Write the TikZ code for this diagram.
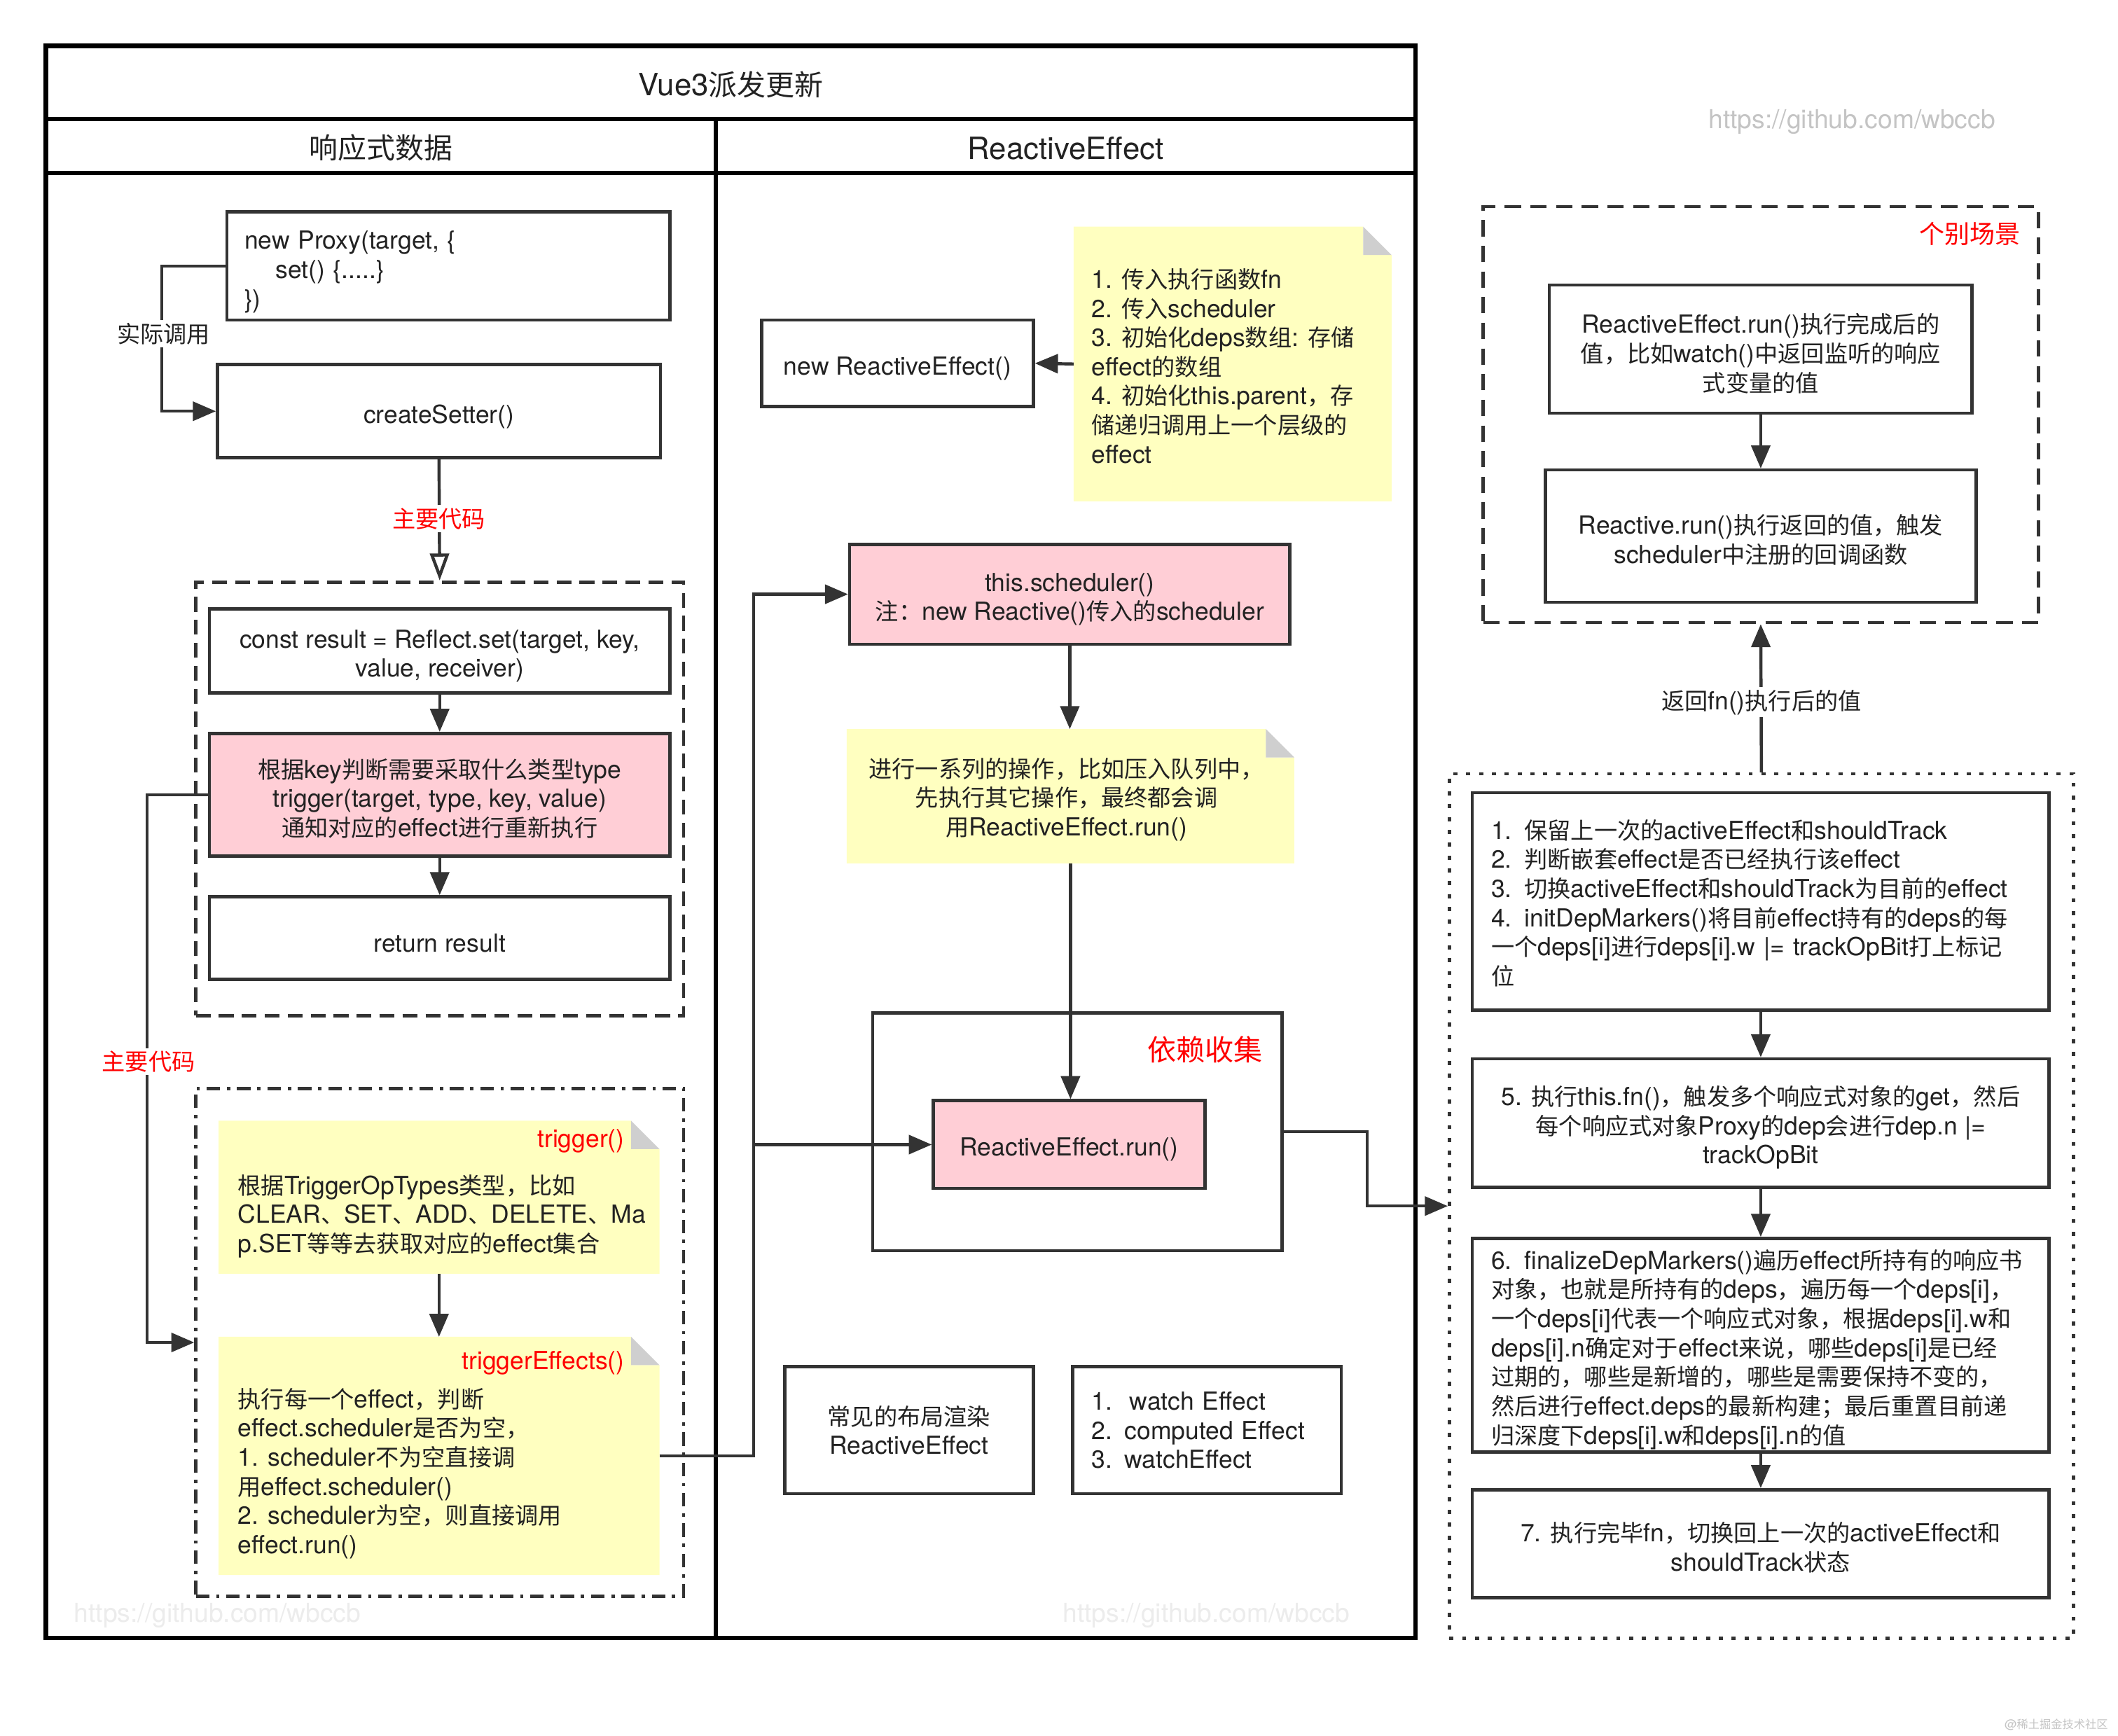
\documentclass[tikz,border=0pt]{standalone}
\usepackage{fontspec}
\setmainfont{TeX Gyre Heros}
\newfontfamily\cjkfont[Scale=0.935]{Noto Sans CJK SC}
\makeatletter
\newcount\cjk@n
\def\cjk@range#1#2{\cjk@n=#1\relax\loop\XeTeXcharclass\cjk@n=10\relax\advance\cjk@n 1\relax\ifnum\cjk@n<#2\relax\repeat}
\cjk@range{"4E00}{"A000}
\cjk@range{"3000}{"3040}
\cjk@range{"FF00}{"FFF0}
\makeatother
\XeTeXinterchartoks 0 10 = {\begingroup\cjkfont}
\XeTeXinterchartoks 4095 10 = {\begingroup\cjkfont}
\XeTeXinterchartoks 10 0 = {\endgroup}
\XeTeXinterchartoks 10 4095 = {\endgroup}
\XeTeXinterchartokenstate=1
\usetikzlibrary{arrows.meta}
\definecolor{lc}{HTML}{333333}
\definecolor{tc}{HTML}{222222}
\definecolor{pinkc}{HTML}{FFCED6}
\definecolor{notey}{HTML}{FFFFC0}
\definecolor{foldg}{HTML}{CFCFCF}
\definecolor{redc}{HTML}{FF0000}
\definecolor{wmc}{HTML}{C4C4C4}
\definecolor{wml}{HTML}{ECECEC}
\newcommand\fsbody{\fontsize{18.4pt}{21.6pt}\selectfont}
\newcommand\fshead{\fontsize{22.7pt}{26pt}\selectfont}
\newcommand\tp[1][21pt]{\rule{0pt}{#1}}
\newcommand\notebg[1]{%
  \fill[notey] (#1.north west) -- ([xshift=-21pt]#1.north east) -- ([xshift=-21pt,yshift=-21pt]#1.north east) -- ([yshift=-21pt]#1.north east) -- (#1.south east) -- (#1.south west) -- cycle;
  \fill[foldg] ([xshift=-21pt]#1.north east) -- ([xshift=-21pt,yshift=-21pt]#1.north east) -- ([yshift=-21pt]#1.north east) -- cycle;}
\tikzset{
  box/.style={draw=lc, line width=2.4pt, fill=white, inner sep=0pt, align=center},
  poolbox/.style={draw=black, line width=3.2pt, inner sep=0pt},
  poolln/.style={draw=black, line width=3.2pt},
  dashbox/.style={draw=lc, line width=2.4pt, dash pattern=on 11pt off 6pt, inner sep=0pt},
  dashdotbox/.style={draw=lc, line width=2.4pt, dash pattern=on 10pt off 5pt on 2.5pt off 5pt, inner sep=0pt},
  dotbox/.style={draw=lc, line width=2.4pt, dash pattern=on 3pt off 6.5pt, inner sep=0pt},
  scenebox/.style={draw=lc, line width=2.4pt, dash pattern=on 12pt off 7pt, inner sep=0pt},
  notebox/.style={inner sep=0pt},
  ln/.style={draw=lc, line width=2.3pt},
  arr/.style={draw=lc, line width=2.3pt, -{Triangle[length=17pt,width=14pt]}},
  openarr/.style={draw=lc, line width=2.3pt, -{Triangle[fill=white,length=20pt,width=14pt]}},
  lbl/.style={fill=white, inner sep=2pt},
  redlbl/.style={text=redc, inner sep=0pt},
}
\begin{document}
\begin{tikzpicture}[x=1pt,y=-1pt, every node/.style={font=\fsbody, text=tc}]
\useasboundingbox (0,0) rectangle (1568,1285);
\fill[white] (0,0) rectangle (1568,1285);

% pool
\node[poolbox, minimum width=1014pt, minimum height=1179pt] (pool) at (541,623.5) {};
\draw[poolln] (34,88) -- (1048,88);
\draw[poolln] (34,128) -- (1048,128);
\draw[poolln] (530,88) -- (530,1213);
\node[font=\fshead] (title) at (541,62.5) {Vue3派发更新};
\node[font=\fshead] (h1) at (282,109.5) {响应式数据};
\node[font=\fshead] (h2) at (789,110) {ReactiveEffect};

% lane 1
\node[box, minimum width=328pt, minimum height=80pt, text width=302pt, align=left] (proxy) at (332,197) {\tp[22pt]new Proxy(target, \{\\\hspace*{23pt}set() \{.....\}\\\})};
\node[box, minimum width=328pt, minimum height=69pt] (setter) at (325,304.5) {\tp[22pt]createSetter()};
\node[dashbox, minimum width=361pt, minimum height=321pt] (box1) at (325.5,591.5) {};
\node[box, minimum width=341pt, minimum height=62pt] (reflect) at (325.5,482) {\tp const result = Reflect.set(target, key,\\value, receiver)};
\node[box, fill=pinkc, minimum width=341pt, minimum height=91pt] (trig) at (325.5,588.5) {\tp[20pt]根据key判断需要采取什么类型type\\trigger(target, type, key, value)\\通知对应的effect进行重新执行};
\node[box, minimum width=341pt, minimum height=61pt] (ret) at (325.5,694.5) {\tp return result};
\node[dashdotbox, minimum width=361pt, minimum height=376pt] (box2) at (325.5,994) {};
\node[notebox, minimum width=326pt, minimum height=113pt] (ntrig) at (325,886.5) {};
\notebg{ntrig}
\node[redlbl, anchor=east] (ntrigt) at (462.5,845) {trigger()};
\node[anchor=west, align=left, inner sep=0pt] (ntrigb) at (176,900.5) {根据TriggerOpTypes类型，比如\\CLEAR、SET、ADD、DELETE、Ma\\p.SET等等去获取对应的effect集合};
\node[notebox, minimum width=326pt, minimum height=176pt] (nteff) at (325,1078) {};
\notebg{nteff}
\node[redlbl, anchor=east] (ntefft) at (462.5,1009) {triggerEffects()};
\node[anchor=west, align=left, inner sep=0pt] (nteffb) at (176,1091) {执行每一个effect，判断\\effect.scheduler是否为空，\\1. scheduler不为空直接调\\用effect.scheduler()\\2. scheduler为空，则直接调用\\effect.run()};

% lane 2
\node[box, minimum width=201pt, minimum height=64pt] (newre) at (664.5,269) {\tp[21.5pt]new ReactiveEffect()};
\node[notebox, minimum width=235pt, minimum height=203pt] (n1) at (912.5,269.5) {};
\notebg{n1}
\node[anchor=west, align=left, inner sep=0pt] (n1t) at (808,271) {1. 传入执行函数fn\\2. 传入scheduler\\3. 初始化deps数组: 存储\\effect的数组\\4. 初始化this.parent，存\\储递归调用上一个层级的\\effect};
\node[box, fill=pinkc, minimum width=326pt, minimum height=74pt] (sched) at (792,440) {\tp this.scheduler()\\注：new Reactive()传入的scheduler};
\node[notebox, minimum width=331pt, minimum height=99pt] (n2) at (792.5,589.5) {};
\notebg{n2}
\node[align=center, inner sep=0pt] (n2t) at (789.5,592) {进行一系列的操作，比如压入队列中，\\先执行其它操作，最终都会调\\用ReactiveEffect.run()};
\node[box, minimum width=303pt, minimum height=176pt] (dep) at (797.5,838) {};
\node[redlbl, anchor=east, font=\fontsize{22.8pt}{26pt}\selectfont] (deplbl) at (935,777) {依赖收集};
\node[box, fill=pinkc, minimum width=201pt, minimum height=65pt] (run) at (791.5,847.5) {\tp[20pt]ReactiveEffect.run()};
\node[box, minimum width=184pt, minimum height=94pt] (common) at (673,1059) {常见的布局渲染\\ReactiveEffect};
\node[box, minimum width=199pt, minimum height=94pt, text width=171pt, align=left] (list) at (893.5,1059) {1.\hspace*{13pt}watch Effect\\2. computed Effect\\3. watchEffect};

% right side
\node[scenebox, minimum width=411pt, minimum height=308pt] (scene) at (1303.5,307) {};
\node[redlbl, anchor=east, font=\fontsize{20pt}{24pt}\selectfont] (scenelbl) at (1496,173) {个别场景};
\node[box, minimum width=313pt, minimum height=95pt] (sA) at (1303.5,258.5) {\tp ReactiveEffect.run()执行完成后的\\值，比如watch()中返回监听的响应\\式变量的值};
\node[box, minimum width=319pt, minimum height=98pt] (sB) at (1303.5,397) {\tp[20pt]Reactive.run()执行返回的值，触发\\scheduler中注册的回调函数};
\node[dotbox, minimum width=462pt, minimum height=640pt] (dotb) at (1304,893) {};
\node[box, minimum width=427pt, minimum height=161pt, text width=399pt, align=left] (s1) at (1303.5,667.5) {\tp[17pt]1. 保留上一次的activeEffect和shouldTrack\\2. 判断嵌套effect是否已经执行该effect\\3. 切换activeEffect和shouldTrack为目前的effect\\4. initDepMarkers()将目前effect持有的deps的每\\一个deps[i]进行deps[i].w |= trackOpBit打上标记\\位};
\node[box, minimum width=427pt, minimum height=95pt] (s5) at (1303.5,831.5) {\tp 5. 执行this.fn()，触发多个响应式对象的get，然后\\每个响应式对象Proxy的dep会进行dep.n |=\\trackOpBit};
\node[box, minimum width=427pt, minimum height=158pt, text width=399pt, align=left] (s6) at (1303.5,996) {\tp 6. finalizeDepMarkers()遍历effect所持有的响应书\\对象，也就是所持有的deps，遍历每一个deps[i]，\\一个deps[i]代表一个响应式对象，根据deps[i].w和\\deps[i].n确定对于effect来说，哪些deps[i]是已经\\过期的，哪些是新增的，哪些是需要保持不变的，\\然后进行effect.deps的最新构建；最后重置目前递\\归深度下deps[i].w和deps[i].n的值};
\node[box, minimum width=427pt, minimum height=80pt] (s7) at (1303.5,1143) {\tp[20pt]7. 执行完毕fn，切换回上一次的activeEffect和\\shouldTrack状态};

% connectors lane 1
\draw[arr] (proxy.west) -- ++(-47,0) |- (setter.west);
\node[lbl] (lb1) at (121,247) {实际调用};
\draw[openarr] (setter.south) -- (box1.north);
\node[lbl, text=redc] (lb2) at (325,384) {主要代码};
\draw[arr] (reflect.south) -- (trig.north);
\draw[arr] (trig.south) -- (ret.north);
\draw[arr] (trig.west) -- ++(-45,0) |- (box2.west);
\node[lbl, text=redc] (lb3) at (110,786) {主要代码};
\draw[arr] (ntrig.south) -- (nteff.north);
\draw[arr] (nteff.east) -- (558,1078) |- (sched.west);
\coordinate (jn) at (558,847.5);
\draw[arr] (jn) -- (run.west);

% connectors lane 2
\draw[arr] (n1.west) -- (newre.east);
\draw[arr] (sched.south) -- (sched.south |- n2.north);
\draw[arr] (n2.south) -- (n2.south |- run.north);
\draw[arr] (dep.east) -- (1012,838) |- (dotb.west);

% connectors right
\draw[arr] (sA.south) -- (sB.north);
\draw[arr] (dotb.north) -- (scene.south);
\node[lbl] (lb4) at (1304,520) {返回fn()执行后的值};
\draw[arr] (s1.south) -- (s5.north);
\draw[arr] (s5.south) -- (s6.north);
\draw[arr] (s6.south) -- (s7.north);

% watermarks
\node[text=wmc, font=\fontsize{19.3pt}{22pt}\selectfont] (wm1) at (1371,90) {https://github.com/wbccb};
\node[text=wml, font=\fontsize{19.3pt}{22pt}\selectfont] (wm2) at (161,1196) {https://github.com/wbccb};
\node[text=wml, font=\fontsize{19.3pt}{22pt}\selectfont] (wm3) at (893,1196) {https://github.com/wbccb};
\node[text=wmc, anchor=east, font=\fontsize{9pt}{11pt}\selectfont] (wm4) at (1564,1277) {@稀土掘金技术社区};
\end{tikzpicture}
\end{document}
